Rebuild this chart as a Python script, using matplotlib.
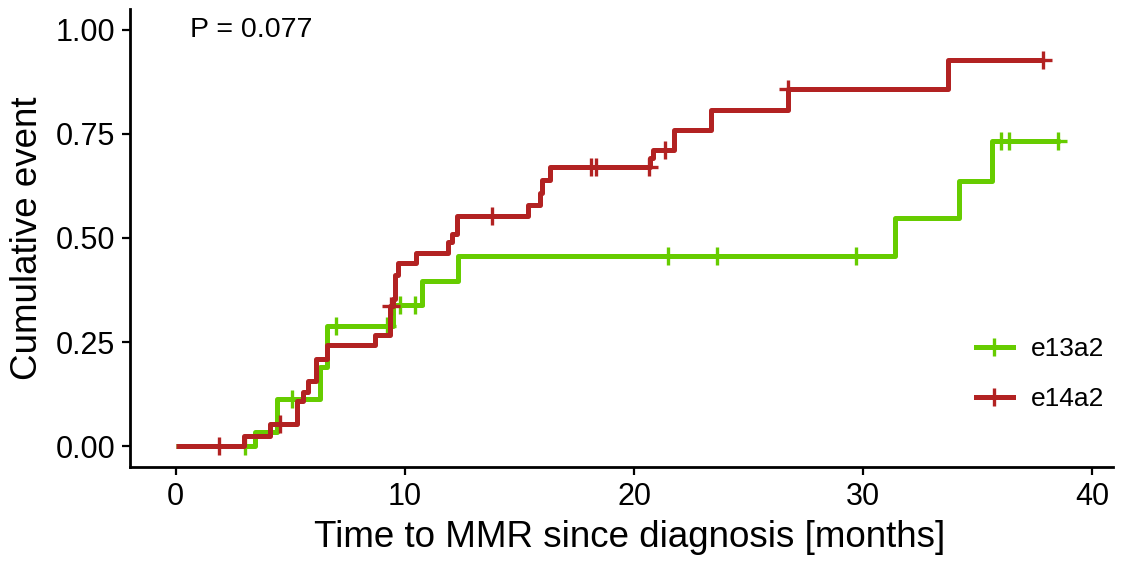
import numpy as np
import matplotlib
matplotlib.use("Agg")
import matplotlib.pyplot as plt
from matplotlib.lines import Line2D

plt.rcParams['font.family'] = ['Liberation Sans', 'DejaVu Sans']

# e13a2 cumulative event curve (step times in months, values after each step)
e13_times = [0, 3.45, 4.4, 6.3, 6.6, 9.5, 10.74, 12.3, 31.4, 34.2, 35.6, 38.6]
e13_values = [0, 0.034, 0.113, 0.19, 0.288, 0.338, 0.396, 0.456, 0.547, 0.638, 0.732, 0.732]
e13_censor = [3.04, 5.07, 7.0, 9.2, 9.78, 10.44, 21.5, 23.6, 29.7, 36.0, 36.35, 38.5]

# e14a2
e14_times = [0, 2.97, 4.1, 5.27, 5.55, 5.77, 6.13, 6.6, 8.7, 9.35, 9.5, 9.57, 9.7,
             10.5, 11.9, 12.05, 12.27, 15.37, 15.9, 16.0, 16.33, 20.7, 20.83,
             21.75, 23.36, 26.7, 33.7, 37.9]
e14_values = [0, 0.025, 0.053, 0.109, 0.13, 0.157, 0.209, 0.243, 0.268, 0.336, 0.353,
              0.41, 0.44, 0.464, 0.49, 0.51, 0.552, 0.578, 0.609, 0.64, 0.671, 0.693,
              0.712, 0.76, 0.808, 0.858, 0.928, 0.928]
e14_censor = [1.88, 4.54, 9.4, 13.8, 18.1, 18.34, 20.66, 21.35, 26.7, 37.85]

groups = ['e13a2', 'e14a2']
colors = ['#66CC00', '#B22222']
pval_text = 'P = 0.077'

fig = plt.figure(figsize=(11.29, 5.61), dpi=100)
ax = fig.add_axes([0.1151, 0.1676, 0.8707, 0.8164])


def at(times, values, t):
    idx = np.searchsorted(times, t, side='right') - 1
    return np.array(values)[idx]


curves = [(e13_times, e13_values, e13_censor), (e14_times, e14_values, e14_censor)]
for (tt, vv, cc), col in zip(curves, colors):
    ax.step(tt, vv, where='post', color=col, lw=3.6, solid_joinstyle='round',
            solid_capstyle='butt')
    ax.plot(cc, at(tt, vv, cc), ls='none', marker='+', color=col,
            markersize=13, mew=2.4)

ax.set_xlim(-2.0, 40.9)
ax.set_ylim(-0.05, 1.05)
ax.set_xticks([0, 10, 20, 30, 40])
ax.set_yticks([0, 0.25, 0.5, 0.75, 1.0])
ax.set_yticklabels(['0.00', '0.25', '0.50', '0.75', '1.00'])
for s in ['top', 'right']:
    ax.spines[s].set_visible(False)
for s in ['left', 'bottom']:
    ax.spines[s].set_linewidth(2.0)
ax.tick_params(labelsize=22, length=5.5, width=1.6, pad=5, colors='black')
ax.set_xlabel('Time to MMR since diagnosis [months]', fontsize=26.5, labelpad=9)
ax.xaxis.set_label_coords(0.508, -0.115)
ax.set_ylabel('Cumulative event', fontsize=26.5, labelpad=8)

ax.text(0.6, 1.0, pval_text, fontsize=20.5, ha='left', va='center')

handles = [Line2D([], [], color=c, lw=3.6, marker='+', markersize=13, mew=2.4)
           for c in colors]
ax.legend(handles, groups, loc='lower right', bbox_to_anchor=(1.015, 0.07),
          frameon=False, fontsize=19, handlelength=1.4, labelspacing=0.98,
          handletextpad=0.68)

fig.savefig('out.png', dpi=100)
